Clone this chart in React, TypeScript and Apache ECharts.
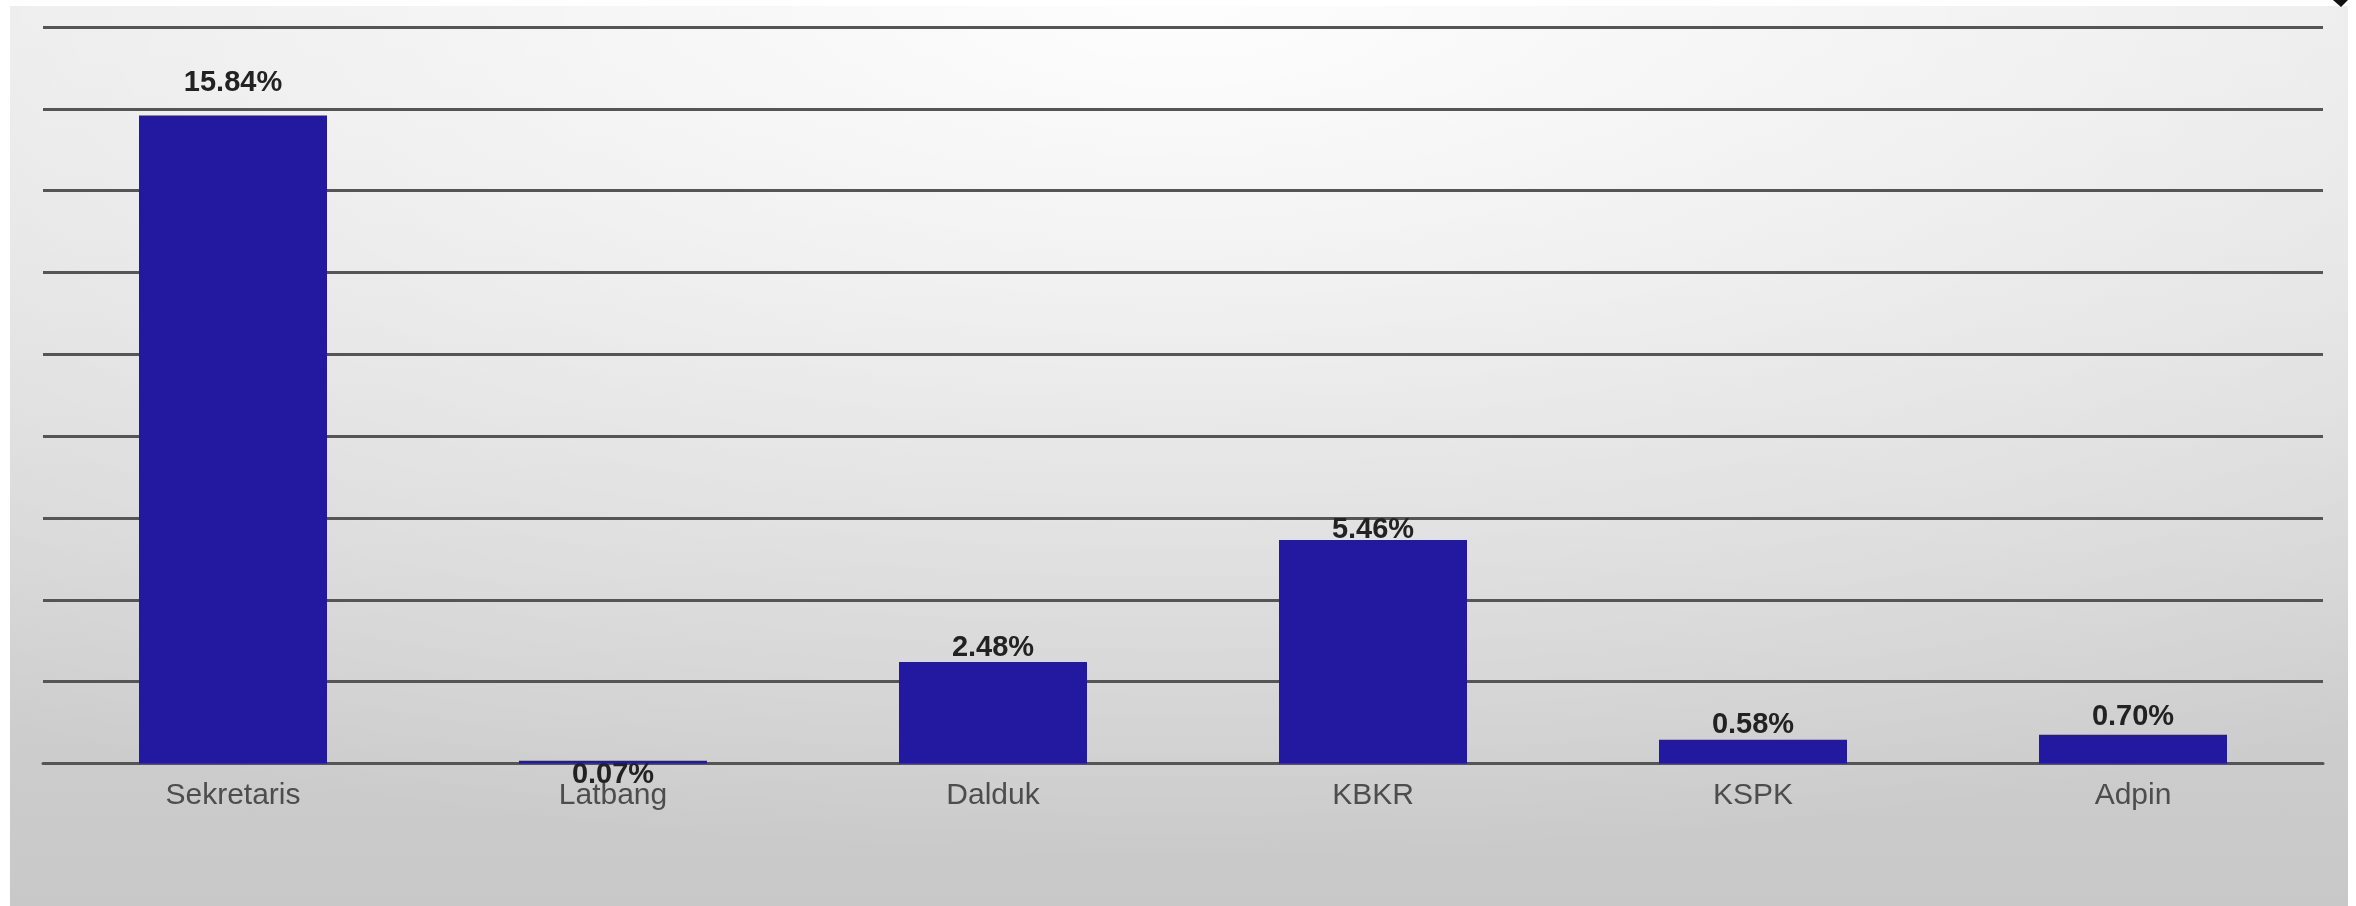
import React, { useEffect, useRef } from 'react';
import * as echarts from 'echarts';

const categories = ['Sekretaris', 'Latbang', 'Dalduk', 'KBKR', 'KSPK', 'Adpin'];
const values = [15.84, 0.07, 2.48, 5.46, 0.58, 0.7];
const yMin = 0;
const yMax = 18;
const yInterval = 2;

export default function App() {
  const ref = useRef<HTMLDivElement>(null);
  useEffect(() => {
    const chart = echarts.init(ref.current!, null, { renderer: 'svg' });
    const labelDistance = [20, -27, 2, -2, 2, 5];
    chart.setOption({
      animation: false,
      grid: { left: 43, right: 33, top: 27, bottom: 142.5 },
      graphic: [
        {
          type: 'rect',
          z: -20,
          silent: true,
          shape: { x: 10, y: 6, width: 2338, height: 900 },
          style: {
            fill: new echarts.graphic.LinearGradient(0, 0, 0, 1, [
              { offset: 0, color: '#e2e2e2' },
              { offset: 1, color: '#c8c8c8' },
            ]),
          },
        },
        {
          type: 'rect',
          z: -19,
          silent: true,
          shape: { x: 10, y: 6, width: 2338, height: 900 },
          style: {
            fill: new echarts.graphic.RadialGradient(0.5, 0, 0.95, [
              { offset: 0, color: 'rgba(255,255,255,0.95)' },
              { offset: 0.5, color: 'rgba(255,255,255,0.45)' },
              { offset: 1, color: 'rgba(255,255,255,0)' },
            ]),
          },
        },
        {
          type: 'polygon',
          z: 10,
          silent: true,
          shape: { points: [[2333, 0], [2348, 0], [2341, 7]] },
          style: { fill: '#111' },
        },
      ],
      xAxis: {
        type: 'category',
        data: categories,
        axisTick: { show: false },
        axisLine: { lineStyle: { color: '#555555', width: 3 } },
        axisLabel: {
          color: '#4d4d4d',
          fontSize: 30,
          fontFamily: 'Liberation Sans',
          margin: 15,
        },
      },
      yAxis: {
        type: 'value',
        min: yMin,
        max: yMax,
        interval: yInterval,
        axisLabel: { show: false },
        axisLine: { show: false },
        axisTick: { show: false },
        splitLine: { lineStyle: { color: '#555555', width: 3 } },
      },
      series: [
        {
          type: 'bar',
          barWidth: 188,
          data: values.map((v, i) => ({ value: v, label: { distance: labelDistance[i] } })),
          itemStyle: { color: '#2219a0' },
          label: {
            show: true,
            position: 'top',
            formatter: (p: any) => Number(p.value).toFixed(2) + '%',
            fontSize: 29,
            fontWeight: 'bold',
            color: '#222222',
            fontFamily: 'Liberation Sans',
          },
        },
      ],
    });
    return () => chart.dispose();
  }, []);
  return (
    <div
      ref={ref}
      style={{ position: 'fixed', left: 0, top: 0, width: 2356, height: 906 }}
    />
  );
}
